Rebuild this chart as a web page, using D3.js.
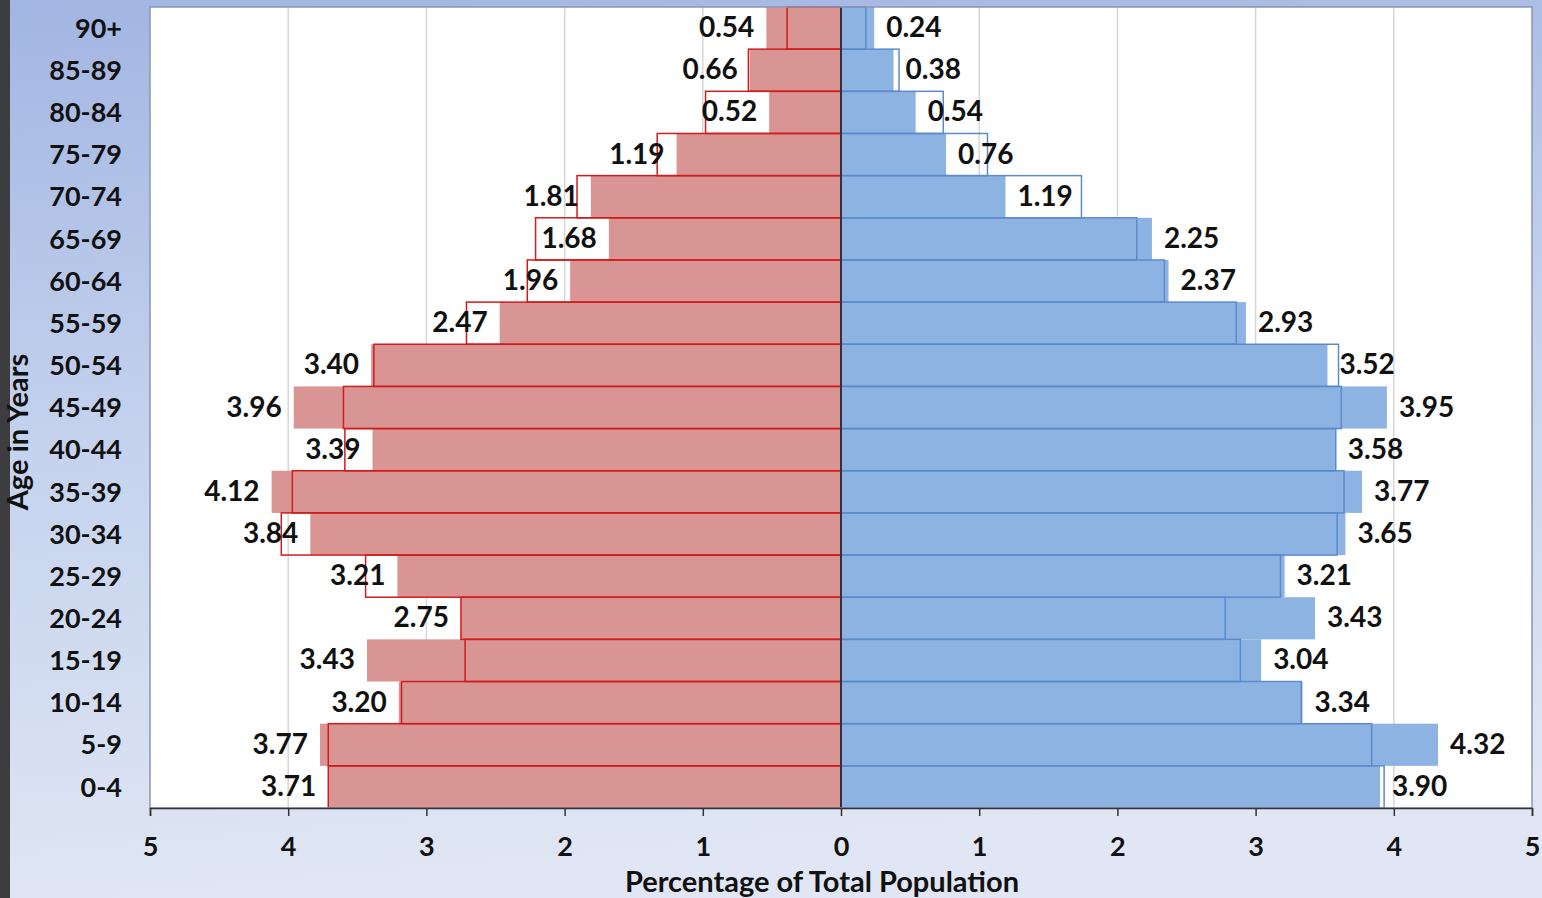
<!DOCTYPE html>
<html>
<head>
<meta charset="utf-8">
<script src="https://cdn.jsdelivr.net/npm/d3@7"></script>
<style>
  html, body { margin: 0; padding: 0; overflow: hidden; }
  body { width: 1542px; height: 898px; }
  text { font-family: "Lato", "DejaVu Sans", sans-serif; font-weight: bold; fill: #111; }
</style>
</head>
<body>
<div id="chart"></div>
<script>
const svgWidth = 1542;
const svgHeight = 898;

// plot area edges, in page pixels
const plot = { left: 150, right: 1532, top: 7, bottom: 808 };

// age bands, bottom to top
const ageGroups = ["0-4", "5-9", "10-14", "15-19", "20-24", "25-29", "30-34", "35-39", "40-44",
  "45-49", "50-54", "55-59", "60-64", "65-69", "70-74", "75-79", "80-84", "85-89", "90+"];

// left side: filled bars (labelled) and outlined bars
const leftFilled = [3.71, 3.77, 3.20, 3.43, 2.75, 3.21, 3.84, 4.12, 3.39,
  3.96, 3.40, 2.47, 1.96, 1.68, 1.81, 1.19, 0.52, 0.66, 0.54];
const leftOutline = [3.71, 3.71, 3.18, 2.72, 2.75, 3.44, 4.05, 3.97, 3.59,
  3.60, 3.38, 2.71, 2.27, 2.21, 1.91, 1.33, 0.98, 0.67, 0.39];

// right side: filled bars (labelled) and outlined bars
const rightFilled = [3.90, 4.32, 3.34, 3.04, 3.43, 3.21, 3.65, 3.77, 3.58,
  3.95, 3.52, 2.93, 2.37, 2.25, 1.19, 0.76, 0.54, 0.38, 0.24];
const rightOutline = [3.93, 3.84, 3.33, 2.89, 2.78, 3.18, 3.59, 3.64, 3.58,
  3.62, 3.60, 2.86, 2.34, 2.14, 1.74, 1.06, 0.74, 0.42, 0.18];

const xTicks = [-5, -4, -3, -2, -1, 0, 1, 2, 3, 4, 5];

const svg = d3.select("#chart")
  .append("svg")
  .attr("width", svgWidth)
  .attr("height", svgHeight);

// background gradient
const defs = svg.append("defs");
const grad = defs.append("linearGradient")
  .attr("id", "bg")
  .attr("x1", 0).attr("y1", 0).attr("x2", 0.15).attr("y2", 1);
grad.append("stop").attr("offset", "0%").attr("stop-color", "#a2b5e2");
grad.append("stop").attr("offset", "50%").attr("stop-color", "#c5d3ee");
grad.append("stop").attr("offset", "100%").attr("stop-color", "#e0e6f3");

svg.append("rect")
  .attr("width", svgWidth)
  .attr("height", svgHeight)
  .attr("fill", "url(#bg)");

// dark strip on the left edge
svg.append("rect")
  .attr("width", 10)
  .attr("height", svgHeight)
  .attr("fill", "#3d3d3f");

// scales
const x = d3.scaleLinear()
  .domain([-5, 5])
  .range([plot.left, plot.right]);

const y = d3.scaleBand()
  .domain(ageGroups)
  .range([plot.bottom, plot.top])
  .padding(0);

// plot area
svg.append("rect")
  .attr("x", plot.left)
  .attr("y", plot.top)
  .attr("width", plot.right - plot.left)
  .attr("height", plot.bottom - plot.top)
  .attr("fill", "#ffffff");

// gridlines
svg.append("g")
  .selectAll("line")
  .data(xTicks.filter(d => d !== 0 && Math.abs(d) !== 5))
  .enter()
  .append("line")
  .attr("x1", d => x(d))
  .attr("x2", d => x(d))
  .attr("y1", plot.top)
  .attr("y2", plot.bottom)
  .attr("stroke", "#d6d6d6")
  .attr("stroke-width", 1.5);

const rows = ageGroups.map((age, i) => ({
  age: age,
  lf: leftFilled[i],
  lo: leftOutline[i],
  rf: rightFilled[i],
  ro: rightOutline[i]
}));

// filled bars
const barsGroup = svg.append("g");

barsGroup.selectAll(".leftFill")
  .data(rows)
  .enter()
  .append("rect")
  .attr("x", d => x(-d.lf))
  .attr("y", d => y(d.age))
  .attr("width", d => x(0) - x(-d.lf))
  .attr("height", y.bandwidth())
  .attr("fill", "#d99594");

barsGroup.selectAll(".rightFill")
  .data(rows)
  .enter()
  .append("rect")
  .attr("x", x(0))
  .attr("y", d => y(d.age))
  .attr("width", d => x(d.rf) - x(0))
  .attr("height", y.bandwidth())
  .attr("fill", "#8db3e2");

// outlined bars on top
barsGroup.selectAll(".leftLine")
  .data(rows)
  .enter()
  .append("rect")
  .attr("x", d => x(-d.lo))
  .attr("y", d => y(d.age))
  .attr("width", d => x(0) - x(-d.lo))
  .attr("height", y.bandwidth())
  .attr("fill", "none")
  .attr("stroke", "#d01c1c")
  .attr("stroke-width", 1.5);

barsGroup.selectAll(".rightLine")
  .data(rows)
  .enter()
  .append("rect")
  .attr("x", x(0))
  .attr("y", d => y(d.age))
  .attr("width", d => x(d.ro) - x(0))
  .attr("height", y.bandwidth())
  .attr("fill", "none")
  .attr("stroke", "#5b8bcb")
  .attr("stroke-width", 1.5);

// centre line
svg.append("line")
  .attr("x1", x(0)).attr("x2", x(0))
  .attr("y1", plot.top).attr("y2", plot.bottom)
  .attr("stroke", "#1a1a1a")
  .attr("stroke-width", 1.5);

// plot border
svg.append("rect")
  .attr("x", plot.left)
  .attr("y", plot.top)
  .attr("width", plot.right - plot.left)
  .attr("height", plot.bottom - plot.top)
  .attr("fill", "none")
  .attr("stroke", "#8b96b0")
  .attr("stroke-width", 1.5);

// value labels
const labelFont = 28;
const tickFont = 27;
svg.append("g")
  .selectAll("text")
  .data(rows)
  .enter()
  .append("text")
  .attr("x", d => x(-d.lf) - 12)
  .attr("y", d => y(d.age) + y.bandwidth() / 2 + 9)
  .attr("text-anchor", "end")
  .style("font-size", labelFont + "px")
  .text(d => d.lf.toFixed(2));

svg.append("g")
  .selectAll("text")
  .data(rows)
  .enter()
  .append("text")
  .attr("x", d => x(d.rf) + 12)
  .attr("y", d => y(d.age) + y.bandwidth() / 2 + 9)
  .attr("text-anchor", "start")
  .style("font-size", labelFont + "px")
  .text(d => d.rf.toFixed(2));

// axes
const bottomAxis = d3.axisBottom(x)
  .tickValues(xTicks)
  .tickFormat(d => Math.abs(d))
  .tickSize(8)
  .tickPadding(21);

const xAxis = svg.append("g")
  .attr("transform", `translate(0, ${plot.bottom})`)
  .call(bottomAxis);
xAxis.selectAll("path, line").attr("stroke", "#333").attr("stroke-width", 1.5);
xAxis.selectAll("text")
  .style("font-size", tickFont + "px")
  .style("font-family", "Lato, sans-serif")
  .style("font-weight", "bold")
  .attr("fill", "#111");

const leftAxis = d3.axisLeft(y)
  .tickSize(0)
  .tickPadding(28);

const yAxis = svg.append("g")
  .attr("transform", `translate(${plot.left}, 0)`)
  .call(leftAxis);
yAxis.select(".domain").remove();
yAxis.selectAll("text")
  .attr("dy", "0.36em")
  .style("font-size", tickFont + "px")
  .style("font-family", "Lato, sans-serif")
  .style("font-weight", "bold")
  .attr("fill", "#111");

// axis titles
svg.append("text")
  .attr("x", 822)
  .attr("y", 892)
  .attr("text-anchor", "middle")
  .style("font-size", "29px")
  .text("Percentage of Total Population");

svg.append("text")
  .attr("transform", "rotate(-90)")
  .attr("x", -432)
  .attr("y", 28)
  .attr("text-anchor", "middle")
  .style("font-size", "29px")
  .text("Age in Years");
</script>
</body>
</html>
